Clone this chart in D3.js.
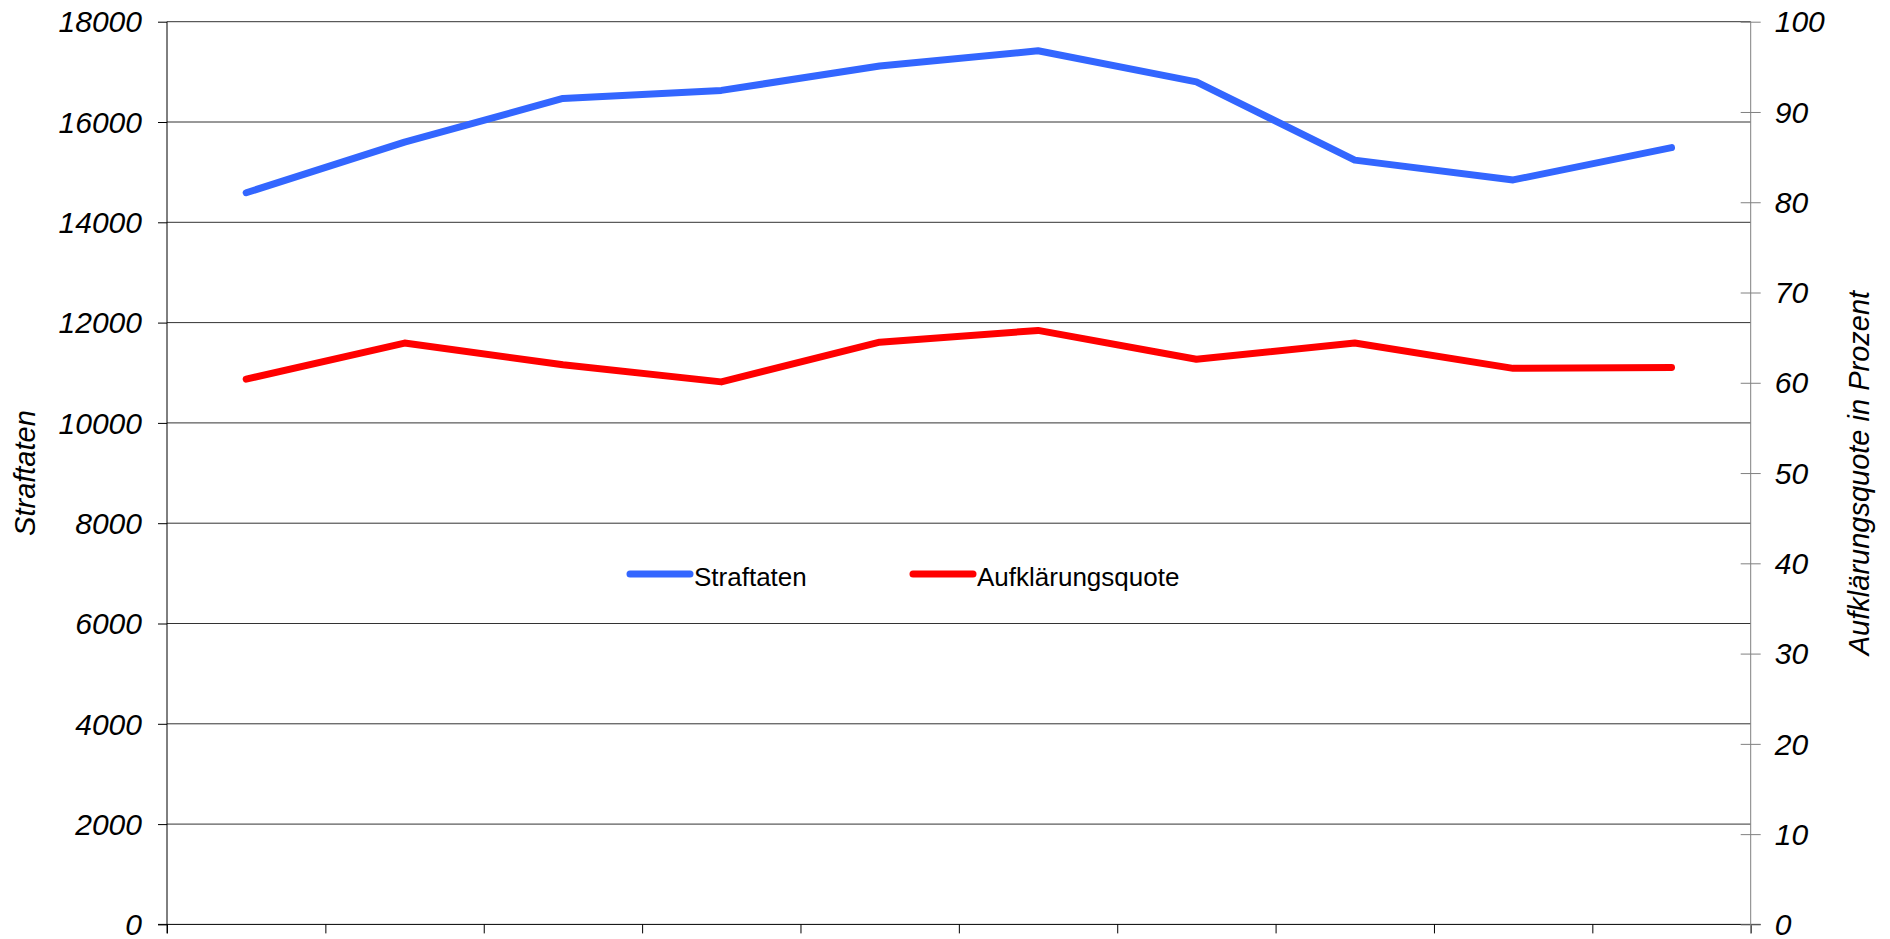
<!DOCTYPE html>
<html>
<head>
<meta charset="utf-8">
<script src="https://cdn.jsdelivr.net/npm/d3@7"></script>
<style>
  body { margin: 0; background: #fff; }
  svg text { font-family: 'Liberation Sans', Arial, sans-serif; }
</style>
</head>
<body>
<div id="chart"></div>
<script>
// data (x labels are not shown in the original chart)
const categories = ['1', '2', '3', '4', '5', '6', '7', '8', '9', '10']
const straftaten = [14590, 15600, 16470, 16630, 17115, 17420, 16800, 15240, 14845, 15490]
const quote = [60.4, 64.4, 62.0, 60.1, 64.5, 65.8, 62.6, 64.4, 61.6, 61.7]
const leftTicks = [0, 2000, 4000, 6000, 8000, 10000, 12000, 14000, 16000, 18000]
const rightTicks = [0, 10, 20, 30, 40, 50, 60, 70, 80, 90, 100]
const seriesNames = ['Straftaten', 'Aufklärungsquote']
const seriesColors = ['#3366ff', '#ff0000']

// canvas
const width = 1890,
  height = 939
const plotLeft = 167, plotRight = 1750.7, plotTop = 21.7, plotBottom = 924.4

let svg = d3.select('#chart')
  .append('svg')
  .attr('width', width)
  .attr('height', height)

let x = d3.scaleBand().domain(categories).range([plotLeft, plotRight])
let xEdge = d3.scaleLinear().domain([0, categories.length]).range([plotLeft, plotRight])
let yL = d3.scaleLinear().domain([0, 18000]).range([plotBottom, plotTop])
let yR = d3.scaleLinear().domain([0, 100]).range([plotBottom, plotTop])

// grid lines
svg.append('g')
  .selectAll('line')
  .data(leftTicks.filter(d => d > 0))
  .enter()
  .append('line')
  .attr('x1', plotLeft)
  .attr('x2', plotRight)
  .attr('y1', d => yL(d))
  .attr('y2', d => yL(d))
  .attr('stroke', '#333')
  .attr('stroke-width', 1)

// left axis
let gl = svg.append('g')
  .attr('transform', `translate(${plotLeft},0)`)
  .call(d3.axisLeft(yL).tickValues(leftTicks).tickFormat(d3.format('d'))
    .tickSize(9).tickSizeOuter(0).tickPadding(16))
gl.select('.domain').remove()
gl.selectAll('.tick line').attr('stroke', '#000')
gl.selectAll('text')
  .attr('font-size', 30)
  .attr('font-style', 'italic')
  .attr('dy', '0.34em')
  .attr('fill', '#000')
svg.append('line')
  .attr('x1', plotLeft).attr('x2', plotLeft)
  .attr('y1', plotTop).attr('y2', plotBottom + 9)
  .attr('stroke', '#000')

// bottom axis
let gb = svg.append('g')
  .attr('transform', `translate(0,${plotBottom})`)
  .call(d3.axisBottom(xEdge).tickValues(d3.range(categories.length + 1)).tickFormat('').tickSize(9).tickSizeOuter(0))
gb.select('.domain').remove()
gb.selectAll('.tick line').attr('stroke', '#000')
svg.append('line')
  .attr('x1', plotLeft - 9).attr('x2', plotRight + 10)
  .attr('y1', plotBottom).attr('y2', plotBottom)
  .attr('stroke', '#000')

// right axis
let gr = svg.append('g')
  .attr('transform', `translate(${plotRight},0)`)
  .call(d3.axisRight(yR).tickValues(rightTicks).tickFormat(d3.format('d'))
    .tickSize(10).tickSizeOuter(0).tickPadding(14))
gr.select('.domain').remove()
gr.selectAll('.tick line').attr('x1', -10).attr('stroke', '#808080')
gr.selectAll('text')
  .attr('font-size', 30)
  .attr('font-style', 'italic')
  .attr('dy', '0.34em')
  .attr('fill', '#000')
svg.append('line')
  .attr('x1', plotRight).attr('x2', plotRight)
  .attr('y1', plotTop).attr('y2', plotBottom + 9)
  .attr('stroke', '#808080')

// axis titles
svg.append('text')
  .attr('transform', `translate(35,${(plotTop + plotBottom) / 2}) rotate(-90)`)
  .attr('text-anchor', 'middle')
  .attr('font-size', 29)
  .attr('font-style', 'italic')
  .text('Straftaten')

svg.append('text')
  .attr('transform', `translate(1869,${(plotTop + plotBottom) / 2}) rotate(-90)`)
  .attr('text-anchor', 'middle')
  .attr('font-size', 29)
  .attr('font-style', 'italic')
  .text('Aufklärungsquote in Prozent')

// lines
let lineL = d3.line()
  .x((d, i) => x(categories[i]) + x.bandwidth() / 2)
  .y(d => yL(d))
let lineR = d3.line()
  .x((d, i) => x(categories[i]) + x.bandwidth() / 2)
  .y(d => yR(d))

svg.append('path')
  .attr('d', lineR(quote))
  .attr('fill', 'none')
  .attr('stroke', seriesColors[1])
  .attr('stroke-width', 7)
  .attr('stroke-linecap', 'round')
  .attr('stroke-linejoin', 'round')

svg.append('path')
  .attr('d', lineL(straftaten))
  .attr('fill', 'none')
  .attr('stroke', seriesColors[0])
  .attr('stroke-width', 7)
  .attr('stroke-linecap', 'round')
  .attr('stroke-linejoin', 'round')

// legend
const legendX = [630, 913]
let lg = svg.append('g')
  .selectAll('g')
  .data(seriesNames)
  .enter()
  .append('g')
  .attr('transform', (d, i) => `translate(${legendX[i]},574)`)
lg.append('line')
  .attr('x1', 0).attr('x2', 60)
  .attr('stroke', (d, i) => seriesColors[i])
  .attr('stroke-width', 7)
  .attr('stroke-linecap', 'round')
lg.append('text')
  .attr('x', 64)
  .attr('y', 12)
  .attr('font-size', 26)
  .text(d => d)
</script>
</body>
</html>
